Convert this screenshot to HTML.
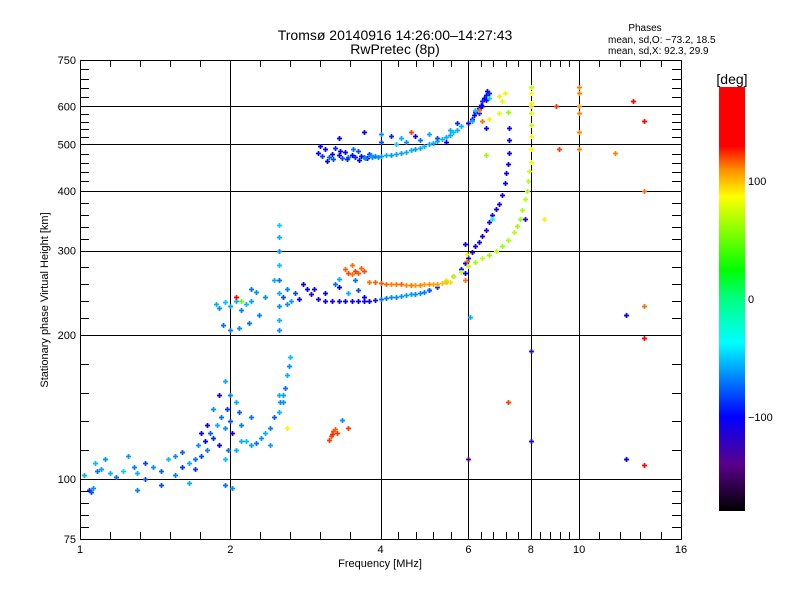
<!DOCTYPE html>
<html><head><meta charset="utf-8">
<style>
html,body{margin:0;padding:0;background:#fff;}
svg{display:block;font-family:"Liberation Sans",sans-serif;}
</style></head>
<body>
<svg id="chart" width="800" height="600" viewBox="0 0 800 600" xmlns="http://www.w3.org/2000/svg">
<defs>
<linearGradient id="cbar" x1="0" y1="1" x2="0" y2="0">
<stop offset="0" stop-color="#000000"/>
<stop offset="0.111" stop-color="#5a008c"/>
<stop offset="0.222" stop-color="#0000ff"/>
<stop offset="0.306" stop-color="#0078ff"/>
<stop offset="0.397" stop-color="#00ffff"/>
<stop offset="0.5" stop-color="#00ff82"/>
<stop offset="0.569" stop-color="#00ff00"/>
<stop offset="0.742" stop-color="#ffff00"/>
<stop offset="0.806" stop-color="#ff8c00"/>
<stop offset="0.861" stop-color="#ff0000"/>
<stop offset="1" stop-color="#ff0000"/>
</linearGradient>
</defs>
<rect x="0" y="0" width="800" height="600" fill="#fff"/>
<text x="395" y="40" font-size="14" text-anchor="middle">Tromsø 20140916 14:26:00–14:27:43</text>
<text x="395" y="54" font-size="14" text-anchor="middle">RwPretec (8p)</text>
<text x="645" y="31" font-size="10" text-anchor="middle">Phases</text>
<text x="608" y="43" font-size="10">mean, sd,O: −73.2, 18.5</text>
<text x="608" y="54" font-size="10">mean, sd,X:  92.3, 29.9</text>
<g id="grid"></g>
<g id="marks"></g>
<g id="axes"></g>
<rect x="80.5" y="60.5" width="601" height="479" fill="none" stroke="#000" stroke-width="1"/>
<text x="380" y="567" font-size="11" text-anchor="middle">Frequency [MHz]</text>
<text transform="translate(48,300) rotate(-90)" font-size="11" text-anchor="middle">Stationary phase Virtual Height [km]</text>
<rect x="719" y="87" width="26" height="424" fill="url(#cbar)"/>
<text x="732" y="84" font-size="14" text-anchor="middle">[deg]</text>
<g id="cbticks"></g>
</svg>
<script>
const xTicks=[1,2,4,6,8,10,16];
const yTicks=[75,100,200,300,400,500,600,750];
const xGrid=[2,4,6,8,10];
const yGrid=[100,200,300,400,500,600];
const cbLabels=[100,0,-100];
const freqs=[
3.0,3.05,3.1,3.15,3.2,3.25,3.3,3.35,3.4,3.45,3.5,3.55,3.6,3.65,3.7,3.75,3.8,3.85,3.9,3.95,3.02,3.12,3.22,3.32,3.42,3.52,3.62,3.72,3.82,
4.0,4.1,4.2,4.3,4.4,4.5,4.6,4.7,4.8,4.9,5.0,5.1,5.2,5.3,5.4,5.5,5.6,5.7,5.8,
4.0,4.0,4.2,4.4,4.5,4.7,5.0,5.2,5.5,5.7,4.3,4.8,5.4,4.6,3.7,3.3,
6.0,6.1,6.15,6.2,6.3,6.35,6.4,6.45,6.5,6.55,6.6,6.5,6.4,6.3,6.1,6.2,6.6,6.9,7.0,7.1,6.9,6.6,7.2,6.3,6.4,6.5,6.5,
5.0,5.2,5.4,5.6,5.8,5.9,6.0,6.1,6.2,6.3,6.4,6.5,6.6,6.7,6.8,6.9,7.0,7.1,7.15,7.2,7.25,7.25,7.25,
5.4,5.6,5.8,6.0,6.2,6.4,6.6,6.8,7.0,7.2,7.4,7.5,7.6,7.7,7.8,7.85,7.9,7.95,8.0,8.0,8.0,8.0,8.0,8.0,8.0,8.0,8.0,
3.4,3.45,3.5,3.55,3.6,3.65,3.7,3.5,3.8,3.9,4.0,4.1,4.2,4.3,4.4,4.5,4.6,4.7,4.8,4.9,5.0,5.1,5.2,5.3,5.4,5.5,
2.85,2.9,3.0,3.1,3.2,3.3,3.4,3.5,3.6,3.7,3.8,3.9,4.0,4.1,4.2,4.3,4.4,4.5,4.6,4.7,4.8,4.9,5.0,
2.8,2.95,3.1,3.3,3.45,3.6,3.25,3.7,3.3,3.55,
1.87,1.9,1.95,2.0,2.05,2.1,2.15,2.2,1.93,2.0,2.08,2.18,2.28,2.5,2.5,2.5,2.5,2.5,2.5,2.5,2.5,2.5,2.55,2.6,2.65,2.7,2.75,2.6,2.2,2.25,2.35,2.45,2.05,2.1,
1.02,1.04,1.05,1.06,1.07,1.08,1.1,1.12,1.15,1.18,1.22,1.28,1.3,1.35,1.4,1.45,1.5,1.55,1.6,1.65,1.7,1.72,1.75,1.78,1.8,1.82,1.85,1.88,1.9,1.92,1.95,1.97,2.0,2.02,2.05,2.08,2.1,2.15,2.2,2.25,2.3,2.35,2.4,2.45,2.5,2.52,2.55,2.58,2.6,2.62,2.63,1.3,1.45,1.65,1.95,2.02,1.25,1.6,1.75,1.85,1.9,1.95,2.0,2.1,1.98,1.7,1.55,2.4,2.5,2.55,1.35,1.95,2.05,2.6,1.8,2.2,
3.15,3.18,3.2,3.22,3.25,3.28,3.35,3.45,
10.0,10.0,10.0,10.0,10.0,10.0,9.0,9.1,12.8,13.5,11.8,13.5,13.5,13.5,12.4,12.4,13.5,8.0,8.0,7.8,7.2,6.0,6.05,6.7,8.5,5.9,5.95,5.95,5.9,5.92
];
const heights=[
480,472,488,470,478,492,475,468,482,470,476,470,485,472,470,468,478,470,472,470,495,462,465,485,466,490,463,468,475,
472,474,476,478,480,483,486,489,492,496,500,504,508,512,518,524,530,536,545,
525,505,520,515,505,520,525,515,535,555,500,510,505,530,530,515,
555,565,575,585,595,605,615,625,635,645,640,620,600,580,560,590,625,630,615,640,580,565,585,590,560,540,475,
248,252,258,265,275,282,290,298,306,313,322,332,344,356,366,376,392,415,435,455,480,510,540,
260,265,271,278,284,290,294,300,307,316,328,338,350,365,385,400,420,440,460,490,520,550,580,610,640,660,600,
275,270,268,272,270,276,272,280,258,258,257,256,256,255,255,254,254,254,254,255,255,256,256,257,258,258,
250,243,238,236,235,235,235,235,236,236,236,237,238,239,240,240,241,242,243,244,245,246,248,
255,250,245,252,245,248,255,240,262,260,
232,228,234,230,236,226,232,235,210,205,207,212,220,340,320,300,280,260,245,230,215,205,240,250,236,245,238,232,250,246,240,260,240,236,
102,95,94,96,108,104,105,110,103,101,104,106,103,108,106,104,110,102,106,108,110,118,112,120,115,125,122,130,118,135,128,140,132,125,145,138,130,120,118,119,122,125,128,135,138,145,150,155,165,172,180,95,97,98,97,96,112,114,125,140,150,160,150,120,115,105,112,118,150,145,100,110,115,128,130,135,
121,123,124,126,127,125,133,128,
660,640,600,580,530,490,600,490,615,560,480,400,230,197,220,110,107,185,120,350,145,110,218,350,350,310,295,285,270,260
];
const phases=[
-110,-95,-120,-85,-110,-100,-120,-90,-110,-75,-115,-100,-90,-120,-80,-110,-95,-70,-75,-70,-120,-110,-90,-115,-100,-80,-110,-70,-65,
-65,-60,-68,-62,-65,-60,-62,-66,-60,-58,-62,-60,-64,-58,-60,-62,-55,-60,-58,
-70,-90,-100,-60,-70,-110,-60,-90,-60,-100,-50,-80,-110,125,-110,-110,
-110,-105,-115,-100,-110,-120,-100,-110,-105,-115,-100,-110,-120,-100,-60,-50,-50,90,80,90,80,90,60,115,115,-110,60,
-95,-95,-100,-100,-105,-110,-115,-115,-120,-120,-125,-120,-125,-115,-120,-125,-120,-115,-120,-110,-120,-110,-125,
75,70,72,68,65,70,62,68,60,65,70,62,60,65,70,62,70,75,80,85,90,70,75,80,85,70,95,
118,122,115,125,120,118,122,115,115,118,120,116,112,114,118,110,114,108,112,106,110,104,106,100,98,95,
-110,-120,-115,-120,-125,-120,-115,-120,-110,-115,-110,-105,-80,-75,-70,-70,-68,-66,-65,-70,-72,-75,-85,
-110,-120,-120,-110,-60,-90,-80,-110,-60,-80,
-60,-70,-55,-65,-60,-75,-55,-65,-80,-75,-70,-80,-75,-50,-60,-70,-55,-80,-60,-70,-60,-70,-90,-75,-65,-90,-110,-70,-80,-70,-70,-60,170,50,
-60,-100,-90,-70,-55,-80,-65,-70,-60,-80,-50,-75,-60,-90,-70,-85,-55,-75,-95,-60,-80,-70,-90,-110,-75,-85,-100,-60,-120,-80,-70,-95,-90,-130,-60,-85,-75,-55,-65,-80,-70,-60,-75,-85,-60,-70,-65,-80,-60,-70,-55,-75,-90,-60,-80,-70,-65,-85,-110,-70,-130,-60,-75,-60,-80,-95,-70,-65,-60,-70,-90,-55,-60,90,-110,-80,
125,120,128,122,118,125,-70,125,
112,112,108,112,110,112,125,125,140,140,112,115,115,150,-110,-110,140,-140,-130,-140,125,-160,-60,-40,90,-110,90,115,-110,115
];
const X0=80,X1=681,Y0=539,Y1=60;
function xs(f){return X0+(X1-X0)*Math.log2(f)/4;}
function ys(h){return Y0-(Y0-Y1)*Math.log10(h/75);}
const stops=[[-180,0,0,0],[-160,90,0,140],[-140,40,0,220],[-110,0,0,255],[-80,0,110,255],[-40,0,240,255],[0,0,255,130],[25,0,255,0],[87,255,255,0],[110,255,140,0],[135,255,0,0],[180,255,0,0]];
function color(p){
  for(let i=0;i<stops.length-1;i++){const a=stops[i],b=stops[i+1];
    if(p<=b[0]){const t=Math.max(0,(p-a[0])/(b[0]-a[0]));
      return 'rgb('+[1,2,3].map(k=>Math.round(a[k]+(b[k]-a[k])*t)).join(',')+')';}}
  return 'rgb(255,0,0)';
}
const NS='http://www.w3.org/2000/svg';
function mk(tag,attrs,parent){const e=document.createElementNS(NS,tag);for(const k in attrs)e.setAttribute(k,attrs[k]);parent.appendChild(e);return e;}
const grid=document.getElementById('grid'),axes=document.getElementById('axes'),marks=document.getElementById('marks');
xGrid.forEach(v=>{const x=Math.round(xs(v))+0.5;
  const l=mk('line',{x1:x,y1:Y1,x2:x,y2:Y0,stroke:'#000','stroke-width':1},grid);
  
  });
yGrid.forEach(v=>{const y=Math.round(ys(v))+0.5;
  const l=mk('line',{x1:X0,y1:y,x2:X1,y2:y,stroke:'#000','stroke-width':1},grid);
  
  });
for(let i=0;i<xTicks.length-1;i++){const a=xs(xTicks[i]),b=xs(xTicks[i+1]);
  for(let k=1;k<5;k++){const x=Math.round(a+(b-a)*k/5)+0.5;
    const t1=mk('line',{x1:x,y1:Y0,x2:x,y2:Y0-7,stroke:'#000'},axes);
    
    
    const t2=mk('line',{x1:x,y1:Y1,x2:x,y2:Y1+7,stroke:'#000'},axes);
    
    }}
for(let i=0;i<yTicks.length-1;i++){const a=ys(yTicks[i]),b=ys(yTicks[i+1]);
  for(let k=1;k<5;k++){const y=Math.round(a+(b-a)*k/5)+0.5;
    const t1=mk('line',{x1:X0,y1:y,x2:X0+9,y2:y,stroke:'#000'},axes);
    
    
    const t2=mk('line',{x1:X1,y1:y,x2:X1-9,y2:y,stroke:'#000'},axes);
    
    }}
xTicks.forEach(v=>{const t=mk('text',{x:xs(v),y:553,'font-size':11,'text-anchor':'middle'},axes);t.textContent=v;
  
  });
yTicks.forEach(v=>{const t=mk('text',{x:76,y:ys(v)+4,'font-size':11,'text-anchor':'end'},axes);t.textContent=v;
  
  });
for(let i=0;i<freqs.length;i++){
  const x=Math.round(xs(freqs[i]))+0.5,y=Math.round(ys(heights[i]))+0.5,c=color(phases[i]);
  const p=mk('path',{d:'M'+(x-2.5)+' '+y+'h5M'+x+' '+(y-2.5)+'v5',stroke:c,'stroke-width':1.7,fill:'none'},marks);
  
  
}
const cb=document.getElementById('cbticks');
cbLabels.forEach(v=>{const y=87+424*(180-v)/360;
  const t=mk('text',{x:748,y:y+4,'font-size':11},cb);t.textContent=(v<0?'−':'')+Math.abs(v);
  
  });
</script>
</body></html>
